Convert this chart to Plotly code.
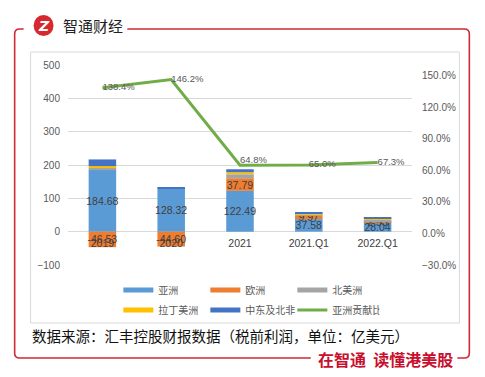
import plotly.graph_objects as go

categories = ["2019", "2020", "2021", "2021.Q1", "2022.Q1"]
asia = [184.68, 128.32, 122.49, 37.58, 28.04]
europe = [-46.53, -44.60, 37.79, 9.97, 2.53]
north_america = [7.0, 0.8, 12.0, 4.0, 5.0]
latin_america = [5.0, 0.5, 6.0, 2.0, 3.0]
mena = [20.0, 1.5, 9.0, 3.0, 2.5]
asia_share = [138.4, 146.2, 64.8, 65.0, 67.3]

asia_labels = ["184.68", "128.32", "122.49", "37.58", "28.04"]
europe_labels = ["-46.53", "-44.60", "37.79", "9.97", "2.53"]
share_labels = ["138.4%", "146.2%", "64.8%", "65.0%", "67.3%"]

COL = {"亚洲": "#5B9BD5", "欧洲": "#ED7D31", "北美洲": "#A5A5A5",
       "拉丁美洲": "#FFC000", "中东及北非": "#4472C4", "亚洲贡献比": "#70AD47"}
FONT = "Noto Sans CJK SC"
NUM = "Liberation Sans"

# page body has an 8px margin: figure is drawn at (8, 8)
OFF = 8
FW, FH = 485 - OFF, 377 - OFF
# plot area in reference-page pixels
L, R, T, B = 67.5, 412.5, 65.0, 265.0
W, H = R - L, B - T
def px(x):
    return (x - L) / W
def py(y):
    return (B - y) / H

fig = go.Figure()

series = [("亚洲", asia, asia_labels), ("欧洲", europe, europe_labels),
          ("北美洲", north_america, None), ("拉丁美洲", latin_america, None),
          ("中东及北非", mena, None)]
for name, vals, labels in series:
    fig.add_trace(go.Bar(
        x=categories, y=vals, name=name, marker_color=COL[name],
        marker_line_width=0, showlegend=False,
        text=labels, textposition="inside" if labels else "none",
        insidetextanchor="middle", constraintext="none", textangle=0,
        textfont=dict(size=10.5, color="#404040", family=NUM),
        hoverinfo="skip", cliponaxis=False,
    ))

# legend entries (line swatches)
row1 = ["亚洲", "欧洲", "北美洲"]
row2 = ["拉丁美洲", "中东及北非"]
for name in row1:
    fig.add_trace(go.Scatter(x=[None], y=[None], mode="lines", name=name,
                             line=dict(color=COL[name], width=5), legend="legend"))
for name in row2:
    fig.add_trace(go.Scatter(x=[None], y=[None], mode="lines", name=name,
                             line=dict(color=COL[name], width=5), legend="legend2"))

fig.add_trace(go.Scatter(
    x=categories, y=asia_share, name="亚洲贡献比", yaxis="y2", mode="lines+text",
    line=dict(color=COL["亚洲贡献比"], width=3),
    text=share_labels,
    textposition=["middle right", "middle right", "top right", "middle right", "middle right"],
    textfont=dict(size=9.5, color="#595959", family=NUM),
    legend="legend2", showlegend=True, cliponaxis=False,
))

legend_common = dict(orientation="h", xanchor="left", yanchor="middle",
                     font=dict(size=10, color="#595959", family=FONT),
                     entrywidth=42, entrywidthmode="pixels", bgcolor="rgba(0,0,0,0)",
                     traceorder="normal", itemwidth=30)

shapes = []
# inner gray frame
shapes.append(dict(type="rect", xref="paper", yref="paper",
                   x0=px(30), x1=px(460), y0=py(323), y1=py(52),
                   line=dict(color="#D9D9D9", width=1), layer="below"))
red = "#D02A35"
def P(x, y):
    return f"{px(x):.5f},{py(y):.5f}"
path1 = f"M {P(23,29)} L {P(19,29)} Q {P(14,29)} {P(14,34)} L {P(14,353)} Q {P(14,358)} {P(19,358)} L {P(311,358)}"
path2 = f"M {P(127,29)} L {P(465,29)} Q {P(470,29)} {P(470,34)} L {P(470,353)} Q {P(470,358)} {P(465,358)} L {P(458,358)}"
for pth in (path1, path2):
    shapes.append(dict(type="path", xref="paper", yref="paper", path=pth,
                       line=dict(color=red, width=1.6)))
# logo circle
shapes.append(dict(type="circle", xref="paper", yref="paper",
                   x0=px(33), x1=px(53), y0=py(36), y1=py(15),
                   fillcolor="#D7282F", line=dict(width=0)))

annotations = [
    dict(x=px(43), y=py(25.5), xref="paper", yref="paper", text="<b><i>Z</i></b>",
         showarrow=False, font=dict(size=14, color="white", family="DejaVu Sans"),
         xanchor="center", yanchor="middle"),
    dict(x=px(60), y=py(25), xref="paper", yref="paper", text="智通财经",
         showarrow=False, font=dict(size=15, color="#222222", family=FONT),
         xanchor="left", yanchor="middle"),
    dict(x=px(29), y=py(335), xref="paper", yref="paper",
         text="数据来源：汇丰控股财报数据（税前利润，单位：亿美元）",
         showarrow=False, font=dict(size=14.5, color="#111111", family=FONT),
         xanchor="left", yanchor="middle"),
    dict(x=px(386), y=py(358.5), xref="paper", yref="paper",
         text="<b>在智通  读懂港美股</b>",
         showarrow=False, font=dict(size=16, color="#C8102E", family=FONT),
         xanchor="center", yanchor="middle"),
]

fig.update_layout(
    width=FW, height=FH,
    margin=dict(l=L - OFF, r=FW - (R - OFF), t=T - OFF, b=FH - (B - OFF), pad=0),
    paper_bgcolor="white", plot_bgcolor="white",
    barmode="relative", bargap=0.6,
    font=dict(family=FONT, color="#595959"),
    xaxis=dict(type="category", anchor="free", position=1/6, showgrid=False,
               showline=False, ticks="", ticklabelstandoff=4,
               tickfont=dict(size=10.5, color="#404040", family=NUM), zeroline=False),
    yaxis=dict(range=[-100, 500], dtick=100, showgrid=True, gridcolor="#D9D9D9",
               gridwidth=1, zeroline=True, zerolinecolor="#D9D9D9", zerolinewidth=1,
               ticks="", ticklabelstandoff=7, showline=False,
               tickfont=dict(size=10, color="#595959", family=NUM)),
    yaxis2=dict(range=[-30, 160], tick0=0, dtick=30, overlaying="y", side="right",
                showgrid=False, zeroline=False, ticks="", ticksuffix="%",
                tickformat=".1f", ticklabelstandoff=9, showline=False,
                tickfont=dict(size=10, color="#595959", family=NUM)),
    legend=dict(x=px(118), y=py(290), **legend_common),
    legend2=dict(x=px(118), y=py(310), **legend_common),
    shapes=shapes, annotations=annotations,
)

fig.write_html("out.html")
